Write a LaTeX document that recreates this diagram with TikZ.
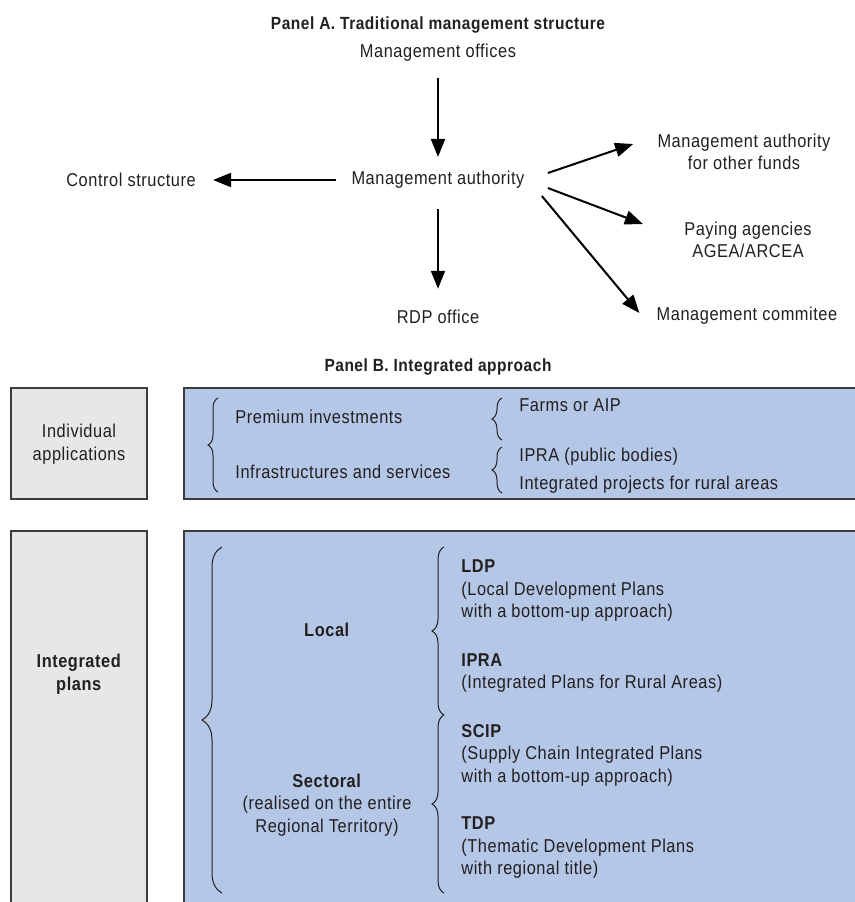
\documentclass[tikz,border=0pt]{standalone}
\usepackage{fontspec}
\setmainfont{Liberation Sans}[FakeStretch=0.88,LetterSpace=3]
\usetikzlibrary{arrows.meta}
\usetikzlibrary{decorations.pathreplacing}
\definecolor{panelblue}{HTML}{B4C7E7}
\definecolor{panelgrey}{HTML}{E6E7E8}
\definecolor{edgegrey}{HTML}{3C3C3C}
\definecolor{inkdark}{HTML}{231F20}

\begin{document}
\begin{tikzpicture}[x=0.5pt, y=-0.5pt,
  txt/.style={inner sep=0pt, text=inkdark, font=\fontsize{9.3}{11.25}\selectfont},
  ttl/.style={inner sep=0pt, text=inkdark, font=\fontsize{8.8}{10.5}\selectfont\bfseries},
  arr/.style={line width=1pt, draw=black, -{Triangle[length=9pt,width=7pt]}},
  brc/.style={line width=0.5pt, draw=inkdark, decorate, decoration={brace, amplitude=#1}},
  greybox/.style={line width=0.75pt, draw=edgegrey, fill=panelgrey},
  bluebox/.style={line width=0.75pt, draw=edgegrey, fill=panelblue}]

  \useasboundingbox (0,0) rectangle (855,902);
  \clip (0,0) rectangle (855,902);
  \fill[white] (0,0) rectangle (855,902);

  %Panel A:
  \node[ttl] (titA) at (438,25) {Panel A. Traditional management structure};
  \node[txt] (mo) at (438,53) {Management offices};
  \node[txt] (ma) at (438,180) {Management authority};
  \node[txt] (cs) at (131,180) {Control structure};
  \node[txt] (rdp) at (438,317) {RDP office};
  \node[txt, align=center] (maf) at (744,152) {Management authority\\for other funds};
  \node[txt, align=center] (pa) at (748,240) {Paying agencies\\AGEA/ARCEA};
  \node[txt] (mc) at (747,316) {Management commitee};

  %arrows
  \draw[arr, shorten <=8pt, shorten >=7pt] (mo) -- (ma);
  \draw[arr, shorten <=7.5pt, shorten >=8.5pt] (ma) -- (cs);
  \draw[arr, shorten <=10pt, shorten >=10.5pt] (ma) -- (rdp);
  \draw[arr] ([shift={(23,-7)}]ma.east) -- ([shift={(-24,-8)}]maf.west);
  \draw[arr] ([shift={(23,8)}]ma.east) -- ([shift={(-41,-16)}]pa.west);
  \draw[arr] ([shift={(17,16)}]ma.east) -- ([shift={(-17,-3)}]mc.west);

  %Panel B:
  \node[ttl] (titB) at (438,367) {Panel B. Integrated approach};

  %boxes
  \draw[greybox] (11,388) rectangle (147,499);
  \draw[bluebox] (184,388) rectangle (870,499);
  \draw[greybox] (11,531) rectangle (147,920);
  \draw[bluebox] (184,531) rectangle (870,920);

  %individual applications
  \node[txt, align=center] (indapp) at (79,444) {Individual\\applications};
  \node[txt, anchor=west] (prem) at (235,417) {Premium investments};
  \node[txt, anchor=west] (infra) at (235,472) {Infrastructures and services};
  \node[txt, anchor=west] (farms) at (519,405) {Farms or AIP};
  \node[txt, anchor=west] (ipra) at (519,457) {IPRA (public bodies)};
  \node[txt, anchor=west] (intproj) at (519,485) {Integrated projects for rural areas};

  \draw[brc=5pt] (218,492) -- (218,398);
  \draw[brc=5pt] (502,440) -- (502,398);
  \draw[brc=5pt] (502,493) -- (502,447);

  %integrated plans
  \node[txt, align=center] (intplans) at (79,674) {\textbf{Integrated}\\\textbf{plans}};
  \node[txt] (local) at (327,630) {\textbf{Local}};
  \node[txt, align=center] (sect) at (327,805) {\textbf{Sectoral}\\(realised on the entire\\Regional Territory)};
  \node[txt, anchor=west, align=left] (ldp) at (461,591) {\textbf{LDP}\\(Local Development Plans\\with a bottom-up approach)};
  \node[txt, anchor=west, align=left] (ipra2) at (461,673) {\textbf{IPRA}\\(Integrated Plans for Rural Areas)};
  \node[txt, anchor=west, align=left] (scip) at (461,755) {\textbf{SCIP}\\(Supply Chain Integrated Plans\\with a bottom-up approach)};
  \node[txt, anchor=west, align=left] (tdp) at (461,848) {\textbf{TDP}\\(Thematic Development Plans\\with regional title)};

  \draw[brc=10pt] (222,893) -- (222,547);
  \draw[brc=6pt] (444,715) -- (444,547);
  \draw[brc=6pt] (444,893) -- (444,715);
\end{tikzpicture}
\end{document}
